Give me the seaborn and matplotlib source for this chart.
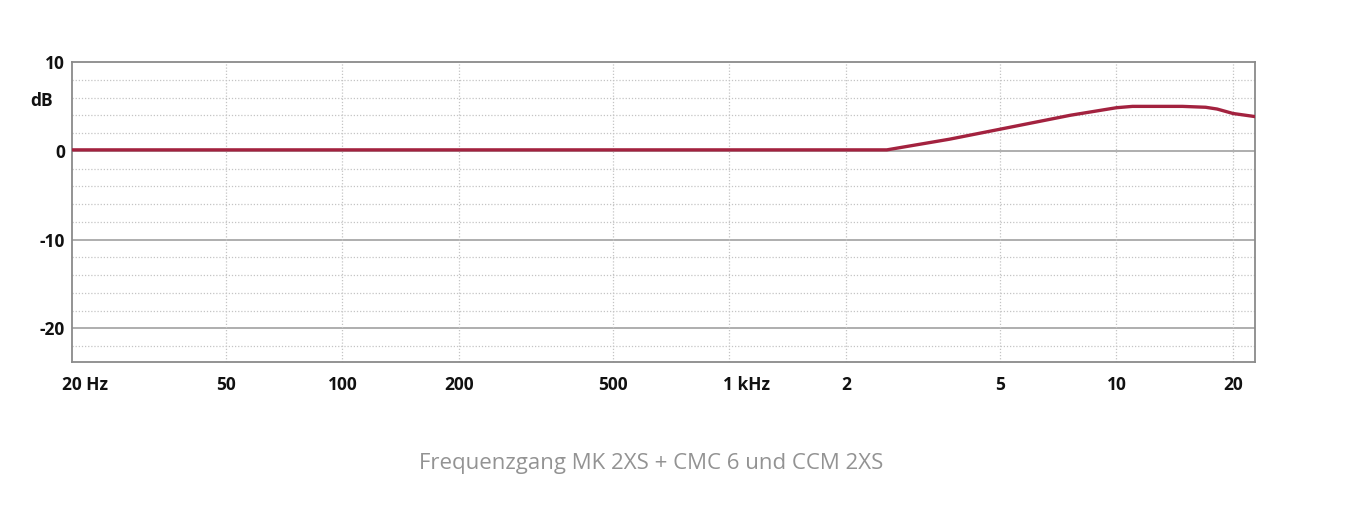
import numpy as np
import pandas as pd
import matplotlib
matplotlib.use("Agg")
import matplotlib.pyplot as plt
import matplotlib.transforms as mtrans
import seaborn as sns

# Frequency response data
freq_hz = [20, 100, 500, 1000, 2000, 2550, 3700, 5100, 7600, 10000, 11000, 14800, 17000, 18200, 20000, 22800]
level_db = [0.1, 0.1, 0.1, 0.1, 0.1, 0.1, 1.3, 2.5, 4.0, 4.85, 5.0, 5.0, 4.9, 4.7, 4.2, 3.85]

x_ticks = [20, 50, 100, 200, 500, 1000, 2000, 5000, 10000, 20000]
x_tick_labels = ["20 Hz", "50", "100", "200", "500", "1 kHz", "2", "5", "10", "20"]
y_ticks = [10, 0, -10, -20]
y_tick_labels = ["10", "0", "-10", "-20"]
caption = "Frequenzgang MK 2XS + CMC 6 und CCM 2XS"

sns.set_style("white")
plt.rcParams["font.family"] = ["Open Sans", "DejaVu Sans"]

df = pd.DataFrame({"freq": freq_hz, "db": level_db})

fig = plt.figure(figsize=(13.56, 5.28), dpi=100)
ax = fig.add_axes([72/1356, 1-362/528, (1255-72)/1356, (362-62)/528])

ax.set_xscale("log")
ax.set_xlim(20, 22800)
ax.set_ylim(-23.8, 10)

# grid
for v in np.arange(-22, 10, 2):
    if v in (0, -10, -20):
        ax.axhline(v, color="#a8a8a8", lw=1.3, zorder=1)
    else:
        ax.axhline(v, color="#c4c4c4", lw=0.9, ls=(0, (1, 1.5)), zorder=1)
for xv in x_ticks[1:]:
    ax.axvline(xv, color="#c4c4c4", lw=0.9, ls=(0, (1, 1.5)), zorder=1)

sns.lineplot(data=df, x="freq", y="db", ax=ax, color="#a3223f", lw=2.4, zorder=3)

ax.set_xticks(x_ticks)
ax.set_xticklabels(x_tick_labels, fontsize=12.5, fontweight="bold", color="#111111")
ax.set_yticks(y_ticks)
ax.set_yticklabels(y_tick_labels, fontsize=12.5, fontweight="bold", color="#111111")
ax.minorticks_off()
ax.tick_params(axis="both", length=0, pad=5)
ax.tick_params(axis="x", pad=10)
ax.set_xlabel("")
ax.set_ylabel("")

# labels with units: number part centred on the tick
shifts = {"20 Hz": -10, "1 kHz": -6}
for lab in ax.get_xticklabels():
    t = lab.get_text()
    if t in shifts:
        lab.set_ha("left")
        lab.set_transform(lab.get_transform() + mtrans.ScaledTranslation(shifts[t] / 100, 0, fig.dpi_scale_trans))

for s in ax.spines.values():
    s.set_color("#8a8a8a")
    s.set_linewidth(1.3)

ax.text(-19/1183, 0.87, "dB", transform=ax.transAxes, ha="right", va="center",
        fontsize=12.5, fontweight="bold", color="#111111")

fig.text(651/1356, 1-463/528, caption, ha="center", va="center",
         fontsize=16, color="#939393", family=["Open Sans", "DejaVu Sans"])

fig.savefig("out.png", dpi=100, facecolor="white")
